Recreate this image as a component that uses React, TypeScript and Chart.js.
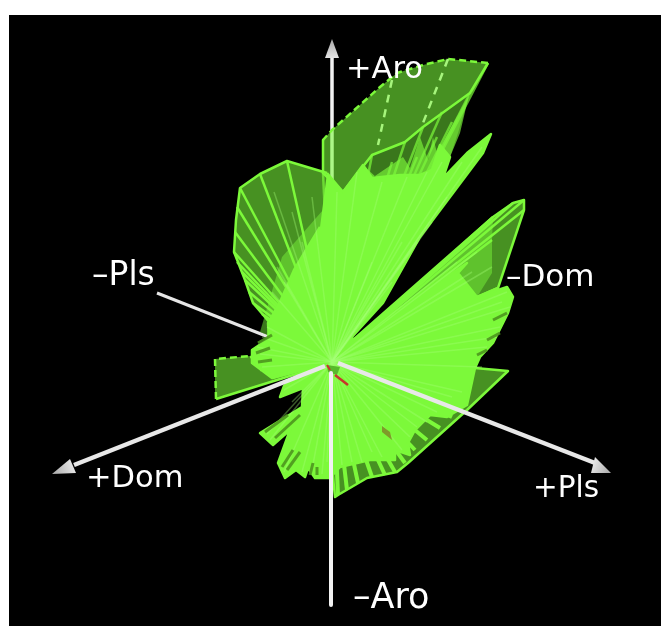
import React, { useEffect, useRef } from "react";
import { Chart, registerables } from "chart.js";

Chart.register(...registerables);

type P = [number, number];

// Values: projected position relative to the axes' crossing point.
const topSheet: P[] = [[-9,222],[-9,189],[11,170],[40,207],[73,220],[91,235],[138,269],[156,299],[116,303],[91,297],[65,289],[48,275],[0,232]];
const topSheetSolid: P[] = [[-9,222],[-9,189],[11,170],[40,207],[73,220],[91,235],[138,269],[156,299]];
const topSheetDashed: P[] = [[156,299],[116,303],[91,297],[65,289],[48,275],[0,232],[-9,222]];
const topInnerDashA: P[] = [[116,303],[91,239]];
const topInnerDashB: P[] = [[60,282],[46,217]];
const leftSheet: P[] = [[-5,189],[-45,201],[-72,188],[-92,174],[-96,142],[-98,110],[-87,82],[-79,59],[-62,39],[0,0]];
const lowLeftSheet: P[] = [[-116,-37],[-117,3],[-82,6],[0,0]];
const lowLeftDashed: P[] = [[-116,-37],[-117,3],[-82,6]];
const lowLeftSolid: P[] = [[-116,-37],[-10,-4]];
const leftFan: P[] = [[-62,39],[-64,23],[-80,12],[-80,-1],[-60,-16],[0,0]];
const rightSheet: P[] = [[21,22],[161,145],[181,159],[192,162],[192,152],[166,74],[145,65],[0,0]];
const lowerSheet: P[] = [[143,-6],[176,-9],[135,-48],[76,-101],[65,-110],[35,-116],[6,-133],[3,-135],[0,-105],[0,0]];
const topSemi: P[] = [[11,170],[40,207],[73,220],[91,235],[138,269],[126,229],[118,205],[111,184],[88,187],[40,184]];
const topPeaks: P[] = [[31,197],[40,184],[71,205],[78,194],[88,225],[96,202],[101,225],[105,209],[126,247],[137,267],[128,229],[118,205],[111,184],[60,170]];
const rightSemi: P[] = [[21,22],[161,145],[160,122],[160,89],[145,65],[126,89],[135,99]];
const leftSemi: P[] = [[-72,30],[-50,105],[-9,152],[0,0]];
const mainMass: P[] = [[-5,189],[11,170],[31,197],[40,184],[68,187],[88,187],[100,192],[108,217],[118,205],[111,184],[135,209],[159,228],[151,209],[88,125],[51,59],[20,25],[21,22],[135,99],[126,89],[145,65],[175,75],[181,65],[176,49],[161,19],[148,5],[143,-6],[135,-43],[115,-55],[98,-53],[83,-68],[76,-81],[78,-93],[63,-88],[63,-98],[38,-98],[8,-105],[-2,-116],[-17,-116],[-24,-106],[-27,-115],[-36,-108],[-47,-116],[-54,-101],[-42,-68],[-59,-83],[-72,-71],[-30,-45],[-29,-26],[-52,-35],[-48,-24],[-25,-6],[-60,-14],[-78,0],[-79,12],[-63,22],[-64,39],[-52,60],[-38,92],[-12,135]];

const leftRays: P[] = [[-45,201],[-72,188],[-92,174],[-95,155],[-97,130],[-98,110],[-95,100],[-90,90],[-87,82],[-83,70],[-79,59],[-70,48]];
const topRays: P[] = [[40,207],[60,200],[73,220],[85,205],[91,235],[105,225],[110,250],[120,240],[138,269],[156,299],[-9,189]];
const rightRays: P[] = [[161,145],[181,159],[192,162],[192,152],[160,122],[166,74],[145,65]];
const leftFanRays: P[] = [[-62,39],[-64,23],[-80,12],[-82,5],[-80,-1],[-72,-8],[-60,-16]];
const bottomRays: P[] = [[6,-133],[15,-128],[26,-121],[40,-115],[53,-113],[63,-110],[73,-101],[83,-88],[95,-78],[108,-66],[120,-55],[130,-48]];
const paleRays: P[] = [[-58,170],[-40,150],[-20,165],[5,170],[25,190],[50,180],[75,185],[95,190],[110,200],[130,200],[150,215],[85,120],[60,80],[125,100],[145,110],[160,95],[175,70],[178,55],[168,35],[155,15],[130,-30],[105,-50],[85,-65],[70,-88],[50,-95],[30,-100],[10,-103],[-10,-112],[-30,-110],[-48,-110],[-62,-78],[-40,-40],[-48,-28],[-70,-5],[-75,15],[-65,35],[-60,70],[-55,95],[-30,120],[-48,80],[100,140],[115,165],[40,100],[70,120],[140,90],[170,60],[165,25],[150,-5],[120,-35],[95,-60],[78,-75],[40,-90],[20,-100],[-5,-100],[-20,-108],[-65,-72],[-72,8],[-70,25]];
const gapSegments: [number, number, number, number][] = [[-67,-70,-44,-53],[-57,-76,-32,-53],[-50,-105,-39,-88],[-45,-108,-32,-90],[-22,-113,-19,-101],[-15,-113,-15,-105],[161,42,175,49],[155,22,168,29],[145,7,155,12],[-74,19,-60,27],[-76,9,-62,14],[-74,0,-60,2]];

const brownPatch: P[] = [[50,-70],[60,-78],[58,-70],[50,-64]];
const originPatch: P[] = [[-5,-3],[8,-5],[5,-13],[-4,-10]];
const redMarkA: P[] = [[3,-13],[16,-23]];
const redMarkB: P[] = [[-5,-3],[-2,-8]];

const aroUpLine: P[] = [[0,0],[0,306]];
const aroDownLine: P[] = [[-1,-11],[-1,-243]];
const plsPosLine: P[] = [[6,-1],[263,-101]];
const plsNegLine: P[] = [[0,0],[-175,69]];
const domPosLine: P[] = [[-7,-4],[-258,-103]];
const domNegLine: P[] = [[0,0],[170,68]];
const aroHead: P[] = [[-7,304],[0,323],[7,304]];
const plsHead: P[] = [[263,-95],[279,-111],[259,-111]];
const domHead: P[] = [[-262,-97],[-280,-112],[-256,-111]];

const axisNames = ["+Aro", "\u2013Pls", "\u2013Dom", "+Dom", "+Pls", "\u2013Aro"];
const axisNameX = [14, -240, 174, -246, 201, 21];
const axisNameY = [284, 77, 76, -125, -135, -246];
const axisNameSize = [30.5, 33, 31, 30.5, 29.5, 35];

const GREEN = "#7cf93a";

function outline(pts: P[], color: string, width: number, dash: number[] = []) {
  return { data: pts.map(([x, y]) => ({ x, y })), showLine: true, fill: false, borderColor: color, borderWidth: width, borderDash: dash, pointRadius: 0, tension: 0, borderJoinStyle: "round", borderCapStyle: "butt" };
}
function solid(pts: P[], fillColor: any, lineColor = "rgba(0,0,0,0)", width = 0) {
  return { data: pts.map(([x, y]) => ({ x, y })), showLine: true, fill: "shape", backgroundColor: fillColor, borderColor: lineColor, borderWidth: width, pointRadius: 0, tension: 0, borderJoinStyle: "round" };
}
function rays(tips: P[], color: string, width: number) {
  return tips.map((t) => outline([[0, 0], t], color, width));
}
function headFill(pts: P[]) {
  return (c: any) => {
    const s = c.chart.scales;
    const tip = pts[1];
    const base: P = [(pts[0][0] + pts[2][0]) / 2, (pts[0][1] + pts[2][1]) / 2];
    const co = s.x && s.y ? [s.x.getPixelForValue(tip[0]), s.y.getPixelForValue(tip[1]), s.x.getPixelForValue(base[0]), s.y.getPixelForValue(base[1])] : [NaN];
    if (!co.every(Number.isFinite)) return "#cccccc";
    const g = c.chart.ctx.createLinearGradient(co[0], co[1], co[2], co[3]);
    g.addColorStop(0, "#a8a8a8");
    g.addColorStop(1, "#e4e4e4");
    return g;
  };
}

const namesPlugin = {
  id: "axisNames",
  afterDatasetsDraw(chart: any) {
    const { ctx, scales } = chart;
    ctx.save();
    ctx.fillStyle = "#ffffff";
    ctx.textBaseline = "alphabetic";
    axisNames.forEach((name, i) => {
      ctx.font = `${axisNameSize[i]}px "DejaVu Sans"`;
      ctx.fillText(name, scales.x.getPixelForValue(axisNameX[i]), scales.y.getPixelForValue(axisNameY[i]));
    });
    ctx.restore();
  },
};

export default function App() {
  const ref = useRef<HTMLCanvasElement>(null);
  useEffect(() => {
    document.body.style.margin = "0";
    document.body.style.background = "#ffffff";
    const SHEET = "rgba(122,249,58,0.58)";
    const SEMI = "rgba(122,249,58,0.48)";
    const layers: any[] = [
      // axes behind the surface
      outline(aroUpLine, "#f2f2f2", 3.5),
      solid(aroHead, headFill(aroHead)),
      outline(plsNegLine, "#e6e6e6", 3),
      outline(domNegLine, "#e6e6e6", 3),
      // translucent sheets
      solid(topSheet, SHEET),
      outline(topSheetSolid, GREEN, 2.5),
      outline(topSheetDashed, GREEN, 2.5, [7, 4]),
      outline(topInnerDashA, "#a6f57c", 2.5, [8, 7]),
      outline(topInnerDashB, "#a6f57c", 2.5, [8, 7]),
      solid(leftSheet, SHEET, GREEN, 2.5),
      solid(lowLeftSheet, SHEET),
      outline(lowLeftDashed, GREEN, 2.5, [7, 4]),
      outline(lowLeftSolid, GREEN, 2.5),
      solid(leftFan, SHEET, GREEN, 2.5),
      solid(rightSheet, SHEET, GREEN, 2.5),
      solid(lowerSheet, SHEET, GREEN, 2.5),
      solid(topSemi, SEMI),
      solid(rightSemi, SEMI),
      solid(leftSemi, SEMI),
      ...rays(leftRays, GREEN, 2.5),
      ...rays(topRays, "rgba(124,249,58,0.7)", 2.5),
      ...rays(rightRays, GREEN, 2.5),
      ...rays(leftFanRays, GREEN, 2.5),
      ...rays(bottomRays, GREEN, 4),
      solid(topPeaks, "rgba(124,249,58,0.65)"),
      // opaque centre of the surface
      solid(mainMass, GREEN, GREEN, 2.5),
      ...rays(paleRays, "rgba(165,255,120,0.35)", 1.5),
      ...gapSegments.map(([a, b, c, d]) => outline([[a, b], [c, d]], "rgba(76,150,30,0.9)", 3)),
      solid(brownPatch, "#7f9a2a"),
      solid(originPatch, "#58b82c"),
      outline(redMarkA, "#c8352a", 2.5),
      outline(redMarkB, "#c8352a", 2),
      // axes in front of the surface
      outline(aroDownLine, "#f2f2f2", 4),
      outline(plsPosLine, "#e8e8e8", 4.5),
      solid(plsHead, headFill(plsHead)),
      outline(domPosLine, "#e8e8e8", 4.5),
      solid(domHead, headFill(domHead)),
    ];
    const chart = new Chart(ref.current as HTMLCanvasElement, {
      type: "scatter",
      data: { datasets: layers.reverse() },
      options: {
        animation: false,
        responsive: false,
        layout: { padding: 0 },
        plugins: { legend: { display: false }, tooltip: { enabled: false }, title: { display: false } },
        scales: {
          x: { type: "linear", min: -332, max: 329, display: false },
          y: { type: "linear", min: -264, max: 362, display: false },
        },
      },
      plugins: [namesPlugin],
    } as any);
    return () => chart.destroy();
  }, []);
  return (
    <div style={{ position: "relative", width: 661, height: 626, overflow: "hidden" }}>
      <div style={{ position: "absolute", left: 9, top: 15, right: 0, bottom: 0, background: "#000" }} />
      <canvas ref={ref} width={661} height={626} style={{ position: "absolute", left: 0, top: 0, display: "block" }} />
    </div>
  );
}
